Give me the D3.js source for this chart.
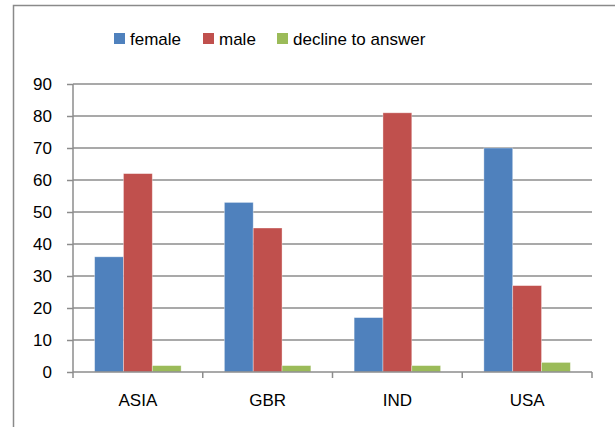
<!DOCTYPE html>
<html>
<head>
<meta charset="utf-8">
<script src="https://cdn.jsdelivr.net/npm/d3@7"></script>
<style>
  body { margin: 0; background: #fff; }
  svg { display: block; font-family: "Liberation Sans", Arial, sans-serif; }
</style>
</head>
<body>
<svg id="chart" width="615" height="427"></svg>
<script>
var categories = ["ASIA", "GBR", "IND", "USA"];
var seriesNames = ["female", "male", "decline to answer"];
var female  = [36, 53, 17, 70];
var male    = [62, 45, 81, 27];
var decline = [2, 2, 2, 3];
var yTicks  = [0, 10, 20, 30, 40, 50, 60, 70, 80, 90];

var colours = ["#4F81BD", "#C0504D", "#9BBB59"];
var values = [female, male, decline];

var svg = d3.select("#chart");

var plotLeft = 73, plotRight = 592, plotTop = 84, plotBottom = 372;

// outer chart frame (cut off on right and bottom)
svg.append("rect")
  .attr("x", 13.5).attr("y", 5.5)
  .attr("width", 640).attr("height", 460)
  .attr("fill", "none")
  .attr("stroke", "#8a8a8a")
  .attr("stroke-width", 1.5);

var y = d3.scaleLinear().domain([0, 90]).range([plotBottom, plotTop]);

var x0 = d3.scaleBand()
  .domain(categories)
  .range([plotLeft, plotRight]);

var bw = x0.bandwidth();
var x1 = d3.scaleBand()
  .domain(seriesNames)
  .range([bw * 0.75 / 4.5, bw - bw * 0.75 / 4.5]);

// gridlines
svg.append("g")
  .selectAll("line")
  .data(yTicks.filter(function(d){ return d > 0; }))
  .join("line")
  .attr("x1", plotLeft).attr("x2", plotRight)
  .attr("y1", function(d){ return y(d); })
  .attr("y2", function(d){ return y(d); })
  .attr("stroke", "#8c8c8c")
  .attr("stroke-width", 1.5);

// bars
var groups = svg.append("g")
  .selectAll("g")
  .data(categories)
  .join("g")
  .attr("transform", function(d){ return "translate(" + x0(d) + ",0)"; });

groups.selectAll("rect")
  .data(function(d, i){
    return seriesNames.map(function(s, j){ return { s: s, v: values[j][i], c: colours[j] }; });
  })
  .join("rect")
  .attr("x", function(d){ return x1(d.s); })
  .attr("width", x1.bandwidth())
  .attr("y", function(d){ return y(d.v); })
  .attr("height", function(d){ return plotBottom - y(d.v); })
  .attr("fill", function(d){ return d.c; })
  .attr("stroke", "rgba(255,255,255,0.45)")
  .attr("stroke-width", 0.8);

// y axis
var yAxis = d3.axisLeft(y).tickValues(yTicks).tickSize(6).tickPadding(15);
var gy = svg.append("g")
  .attr("transform", "translate(" + plotLeft + ",0)")
  .call(yAxis);
gy.select(".domain").attr("d", "M0," + plotTop + "V" + (plotBottom + 6));
gy.selectAll(".tick line").attr("stroke", "#8c8c8c").attr("stroke-width", 1.5);
gy.select(".domain").attr("stroke", "#8c8c8c").attr("stroke-width", 1.5);
gy.selectAll("text").attr("font-size", 17).attr("fill", "#000")
  .attr("font-family", "Liberation Sans, Arial, sans-serif");

// x axis
var xAxis = d3.axisBottom(x0).tickSize(0).tickPadding(22);
var gx = svg.append("g")
  .attr("transform", "translate(0," + plotBottom + ")")
  .call(xAxis);
gx.select(".domain").attr("d", "M" + plotLeft + ",0H" + plotRight)
  .attr("stroke", "#8c8c8c").attr("stroke-width", 1.5);
gx.selectAll("text").attr("font-size", 17).attr("fill", "#000")
  .attr("font-family", "Liberation Sans, Arial, sans-serif");

// category separator ticks
gx.selectAll(".sep")
  .data(categories)
  .join("line")
  .attr("class", "sep")
  .attr("x1", function(d){ return x0(d) + bw; })
  .attr("x2", function(d){ return x0(d) + bw; })
  .attr("y1", 0).attr("y2", 6)
  .attr("stroke", "#8c8c8c").attr("stroke-width", 1.5);

// legend
var legendX = [114, 203, 277];
var legend = svg.append("g")
  .selectAll("g")
  .data(seriesNames)
  .join("g")
  .attr("transform", function(d, i){ return "translate(" + legendX[i] + ",33)"; });

legend.append("rect")
  .attr("width", 11).attr("height", 11)
  .attr("fill", function(d, i){ return colours[i]; });

legend.append("text")
  .attr("x", 16).attr("y", 12)
  .attr("font-size", 17)
  .attr("fill", "#000")
  .text(function(d){ return d; });
</script>
</body>
</html>
